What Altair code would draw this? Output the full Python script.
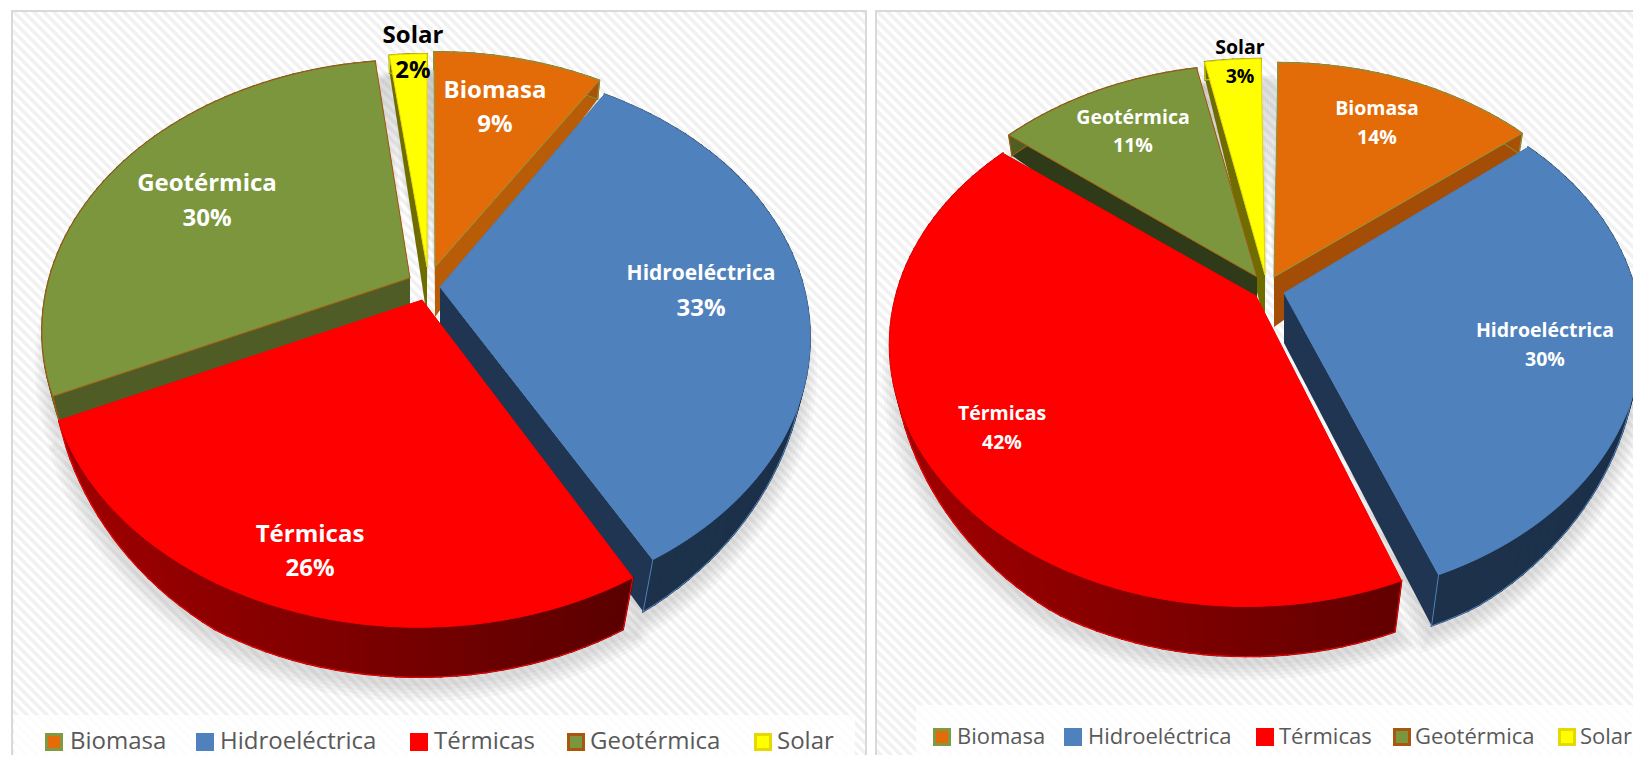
import math
import numpy as np
import pandas as pd
import altair as alt

NAMES = ["Biomasa", "Hidroeléctrica", "Térmicas", "Geotérmica", "Solar"]
LEFT_VALUES = [9, 33, 26, 30, 2]
RIGHT_VALUES = [14, 30, 42, 11, 3]
FILLS = ["#E36C09", "#4F81BD", "#FF0000", "#7B963C", "#FFFF00"]
EDGES = ["#7F9A40", "#4F81BD", "#FF0000", "#A9570F", "#E6D800"]
DRAW_ORDER = [0, 4, 3, 1, 2]
W, H = 1625, 747
OFF = 8


def hexmix(a, b, t):
    ca = [int(a[i:i + 2], 16) for i in (1, 3, 5)]
    cb = [int(b[i:i + 2], 16) for i in (1, 3, 5)]
    return "#%02x%02x%02x" % tuple(int(round(x + (y - x) * t)) for x, y in zip(ca, cb))


def poly(points, c, s=None, w=0, o=1.0):
    pts = [[x - OFF, y - OFF] for x, y in points]
    return {"type": "Feature", "geometry": {"type": "Polygon", "coordinates": [pts + [pts[0]]]},
            "c": c, "s": s or c, "w": w, "o": o}


def line(points, s, w):
    pts = [[x - OFF, y - OFF] for x, y in points]
    return {"type": "Feature", "geometry": {"type": "LineString", "coordinates": pts},
            "c": "transparent", "s": s, "w": w, "o": 1.0}


def panel_bg(x0, x1, y0, y1, band):
    feats = [poly([(x0, y0), (x1, y0), (x1, y1), (x0, y1)], "#ffffff")]
    lines = []
    for c in np.arange(x0 - y1, x1 - y0, 10.0):
        # lines x - y = c, clipped to the panel
        ya = max(y0, x0 - c)
        yb = min(y1, x1 - c)
        if yb > ya:
            lines.append([[float(ya + c - OFF), float(ya - OFF)], [float(yb + c - OFF), float(yb - OFF)]])
    feats.append({"type": "Feature", "geometry": {"type": "MultiLineString", "coordinates": lines},
                  "c": "transparent", "s": "#f1f1f1", "w": 3.5, "o": 1.0})
    feats.append(poly([(band[0], band[1]), (band[2], band[1]), (band[2], band[3]), (band[0], band[3])],
                      "#ffffff", o=0.8))
    return feats


def build_pie(values, apex, rim_shift, A, B, p, wall_left, wall_right, radial):
    def top(i, th, r=1.0):
        u, v = r * math.sin(th), r * math.cos(th)
        w = 1 + p * v
        return (apex[i][0] + A * u / w + r * rim_shift[i][0],
                apex[i][1] - B * v / w + r * rim_shift[i][1])

    def low(i, th, r=1.0, extra=0.0):
        x, y = top(i, th, r)
        v = math.cos(th)
        rim = float(np.interp(v, [-1, -0.875, -0.426, 0.84, 1], [50, 52, 28, 19, 18]))
        d = r * rim + (1 - min(r, 1)) * 50 + extra
        k = d / (1700 - y)
        return x - (x - apex[i][0]) * k, y + d

    total = sum(values)
    bounds = []
    acc = 0
    for val in values:
        a0 = acc / total * 2 * math.pi
        acc += val
        bounds.append((a0, acc / total * 2 * math.pi))

    def arc(a0, a1):
        n = max(2, int((a1 - a0) / math.radians(2)) + 1)
        return [a0 + (a1 - a0) * j / n for j in range(n + 1)]

    feats = []
    # soft shadow under the pie, spreading a little past each slice
    for grow in [15, 12, 9, 6, 3]:
        for i in range(len(values)):
            a0, a1 = bounds[i]
            rr = 1 + grow / A
            spread = grow / 320
            pts = [low(i, a0, 0.0, extra=grow - 42)]
            pts += [low(i, t, rr, extra=5) for t in arc(a0 - spread, a1 + spread)]
            feats.append(poly(pts, "#7f7f7f", o=0.055))
    for i in DRAW_ORDER:
        a0, a1 = bounds[i]
        # radial walls
        for a in (a0, a1):
            pts = [top(i, a, 0.0), top(i, a), low(i, a), low(i, a, 0.0)]
            feats.append(poly(pts, radial[i]))
        # outer wall, shaded along its length
        ts = arc(a0, a1)
        for t0, t1 in zip(ts[:-1], ts[1:]):
            xm = top(i, (t0 + t1) / 2)[0]
            shade = min(1, max(0, (xm - (apex[i][0] - A)) / (2 * A)))
            col = hexmix(wall_left[i], wall_right[i], shade)
            feats.append(poly([top(i, t0), top(i, t1), low(i, t1), low(i, t0)], col, col, 1.6))
        feats.append(line([low(i, t) for t in ts], EDGES[i], 1))
        for a in (a0, a1):
            feats.append(line([top(i, a), low(i, a)], EDGES[i], 1))
        # top face
        pts = [top(i, 0.0, 0.0)] + [top(i, t) for t in ts]
        feats.append(poly(pts, FILLS[i], EDGES[i], 1))
    return feats


# Geometry of both pies (apex of every exploded slice, and a small shift of its rim)
LEFT_APEX = [(435, 267), (440, 287), (422, 300), (410, 278), (427, 267)]
LEFT_RIM = [(-1, 0), (-1, -6), (-3, -1), (3, -3), (0, 2)]
RIGHT_APEX = [(1274, 277), (1284, 293), (1256, 296), (1257, 277), (1265, 275)]
RIGHT_RIM = [(4, 2), (0, 0), (-9, 3), (-4, 4), (-4, 0)]
WALL_L = ["#B85C08", "#1F3551", "#A00000", "#4F5E22", "#6F6C00"]
WALL_R = ["#A44E06", "#1C3049", "#480000", "#4F5E22", "#6F6C00"]
RAD_LEFT = ["#B85C08", "#1F3551", "#7A0000", "#4F5C25", "#6F6C00"]
RAD_RIGHT = ["#A34D06", "#1F3551", "#7A0000", "#2F3A18", "#6F6C00"]

features = []
features += panel_bg(12, 866, 11, 770, (14, 715, 855, 770))
features += panel_bg(876, 1650, 11, 770, (916, 705, 1650, 770))
features += build_pie(LEFT_VALUES, LEFT_APEX, LEFT_RIM, 363, 260, 0.208, WALL_L, WALL_R, RAD_LEFT)
features += build_pie(RIGHT_VALUES, RIGHT_APEX, RIGHT_RIM, 352, 254, 0.174, WALL_L, WALL_R, RAD_RIGHT)

# Panel borders
for x0, x1 in [(12, 866), (876, 1650)]:
    features.append(line([(x0, 780), (x0, 11), (x1, 11), (x1, 780)], "#d9d9d9", 2))

# Legends
LEFT_SWATCH_X = [45, 196, 410, 567, 754]
RIGHT_SWATCH_X = [933, 1064, 1256, 1393, 1558]
LEFT_TEXT_X = [70, 220, 434, 590, 777]
RIGHT_TEXT_X = [957, 1088, 1279, 1415, 1580]
for xs, y0, size in [(LEFT_SWATCH_X, 733, 18), (RIGHT_SWATCH_X, 728, 18)]:
    for i, x in enumerate(xs):
        inset = 1.5
        features.append(poly([(x + inset, y0 + inset), (x + size - inset, y0 + inset),
                              (x + size - inset, y0 + size - inset), (x + inset, y0 + size - inset)],
                             FILLS[i], EDGES[i], 3))

LABEL_X = [495, 701, 310, 207, 413, 1377, 1545, 1002, 1133, 1240]
LABEL_Y = [91, 274, 535, 184, 36, 109, 331, 414, 118, 48]
PCT_Y = [125, 309, 569, 219, 71, 138, 360, 443, 146, 77]
LABEL_SIZE = [24, 21, 24, 24, 24, 19.5, 19.5, 19.5, 19.5, 19.5]
PCT_SIZE = [24, 24, 24, 24, 24, 19.5, 19.5, 19.5, 19.5, 19.5]
LABEL_COL = ["white", "white", "white", "white", "black"] * 2
ALL_VALUES = LEFT_VALUES + RIGHT_VALUES
rows = []
for i in range(10):
    rows.append({"lon": LABEL_X[i] - OFF, "lat": LABEL_Y[i] - OFF, "t": NAMES[i % 5],
                 "fs": LABEL_SIZE[i], "col": LABEL_COL[i]})
    rows.append({"lon": LABEL_X[i] - OFF, "lat": PCT_Y[i] - OFF, "t": f"{ALL_VALUES[i]}%",
                 "fs": PCT_SIZE[i], "col": LABEL_COL[i]})
labels = pd.DataFrame(rows)

legend_rows = []
for xs, y, fs in [(LEFT_TEXT_X, 742, 24), (RIGHT_TEXT_X, 737, 22)]:
    for name, x in zip(NAMES, xs):
        legend_rows.append({"lon": x - OFF, "lat": y - OFF, "t": name, "fs": fs})
legend_df = pd.DataFrame(legend_rows)

PROJ = dict(type="identity", scale=1, translate=[0, 0])

shapes = alt.Chart(alt.Data(values=features)).mark_geoshape().encode(
    fill=alt.Fill("c:N", scale=None),
    stroke=alt.Stroke("s:N", scale=None),
    strokeWidth=alt.StrokeWidth("w:Q", scale=None),
    opacity=alt.Opacity("o:Q", scale=None),
).project(**PROJ)

label_layer = alt.Chart(labels).mark_text(font="Open Sans", fontWeight="bold", align="center", baseline="middle").encode(
    longitude="lon:Q", latitude="lat:Q", text="t:N",
    color=alt.Color("col:N", scale=None), size=alt.Size("fs:Q", scale=None),
).project(**PROJ)

legend_layer = alt.Chart(legend_df).mark_text(font="Open Sans", color="#595959", align="left", baseline="middle").encode(
    longitude="lon:Q", latitude="lat:Q", text="t:N", size=alt.Size("fs:Q", scale=None),
).project(**PROJ)

chart = alt.layer(shapes, label_layer, legend_layer).properties(
    width=W, height=H, padding=0, autosize=alt.AutoSizeParams(type="none"),
    background="white",
).configure_view(stroke=None)

chart.save("out.html", embed_options={"renderer": "svg", "actions": False})
